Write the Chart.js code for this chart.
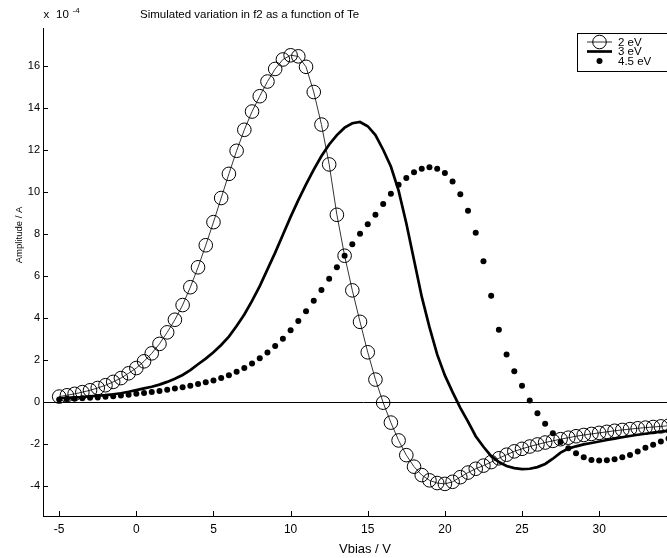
<!DOCTYPE html>
<html>
<head>
<meta charset="utf-8">
<script src="https://cdn.jsdelivr.net/npm/chart.js@4.4.0/dist/chart.umd.min.js"></script>
<style>
  html, body { margin: 0; padding: 0; background: #fff; overflow: hidden; }
  #wrap { position: relative; width: 700px; height: 558px; }
</style>
</head>
<body>
<div id="wrap"><canvas id="c"></canvas></div>
<script>
// Bias voltage (V) at which f2 was simulated
const vbias = [-5,-4.5,-4,-3.5,-3,-2.5,-2,-1.5,-1,-0.5,0,0.5,1,1.5,2,2.5,3,3.5,4,4.5,
  5,5.5,6,6.5,7,7.5,8,8.5,9,9.5,10,10.5,11,11.5,12,12.5,13,13.5,14,14.5,
  15,15.5,16,16.5,17,17.5,18,18.5,19,19.5,20,20.5,21,21.5,22,22.5,23,23.5,24,24.5,
  25,25.5,26,26.5,27,27.5,28,28.5,29,29.5,30,30.5,31,31.5,32,32.5,33,33.5,34,34.5,35];

// f2 amplitude, in units of 1e-4 A
const amp2eV = [0.24,0.30,0.37,0.45,0.54,0.65,0.78,0.94,1.12,1.35,1.60,1.92,2.30,2.75,3.30,3.90,4.60,5.45,6.40,7.45,
  8.55,9.70,10.85,11.95,12.95,13.82,14.55,15.25,15.85,16.30,16.50,16.45,15.95,14.75,13.20,11.30,8.90,6.95,5.30,3.80,
  2.35,1.05,-0.05,-1.00,-1.85,-2.55,-3.10,-3.50,-3.75,-3.88,-3.92,-3.82,-3.60,-3.38,-3.20,-3.05,-2.88,-2.70,-2.53,-2.37,
  -2.25,-2.14,-2.04,-1.95,-1.87,-1.79,-1.72,-1.65,-1.59,-1.54,-1.49,-1.44,-1.39,-1.35,-1.31,-1.27,-1.24,-1.21,-1.18,-1.15,-1.12];

const amp3eV = [0.16,0.18,0.20,0.22,0.25,0.28,0.31,0.35,0.40,0.47,0.55,0.63,0.71,0.81,0.94,1.09,1.27,1.50,1.78,2.05,
  2.35,2.70,3.10,3.60,4.15,4.80,5.50,6.30,7.10,7.95,8.80,9.60,10.35,11.05,11.70,12.25,12.70,13.05,13.26,13.32,
  13.12,12.70,12.00,11.20,10.05,8.50,6.75,5.00,3.55,2.25,1.25,0.45,-0.30,-0.95,-1.65,-2.15,-2.60,-2.88,-3.07,-3.17,
  -3.22,-3.20,-3.12,-2.97,-2.72,-2.43,-2.24,-2.13,-2.04,-1.97,-1.90,-1.83,-1.76,-1.70,-1.64,-1.58,-1.53,-1.48,-1.43,-1.38,-1.34];

const amp45eV = [0.10,0.12,0.14,0.16,0.18,0.20,0.23,0.26,0.29,0.33,0.37,0.41,0.46,0.51,0.56,0.62,0.69,0.76,0.84,0.92,
  1.00,1.12,1.26,1.42,1.60,1.82,2.06,2.34,2.65,3.00,3.40,3.84,4.30,4.80,5.32,5.85,6.40,6.95,7.50,8.00,
  8.45,8.90,9.41,9.90,10.33,10.65,10.93,11.10,11.17,11.09,10.89,10.49,9.88,9.09,8.04,6.69,5.04,3.42,2.25,1.45,
  0.76,0.05,-0.55,-1.06,-1.51,-1.92,-2.22,-2.46,-2.65,-2.78,-2.81,-2.79,-2.75,-2.65,-2.54,-2.38,-2.20,-2.06,-1.90,-1.76,-1.63];

const seriesNames = ['2 eV', '3 eV', '4.5 eV'];
const xTicks = [-5, 0, 5, 10, 15, 20, 25, 30];
const yTicks = [-4, -2, 0, 2, 4, 6, 8, 10, 12, 14, 16];

const titleText = 'Simulated variation in f2 as a function of Te';
const xTitle = 'Vbias / V';
const yTitle = 'Amplitude / A';

const FONT = '"Liberation Sans", Arial, Helvetica, sans-serif';

function toPoints(ys) { return vbias.map((x, i) => ({ x: x, y: ys[i] })); }

// Axes decorations drawn in the MATLAB manner: inward ticks, zero line, texts, boxed legend
const decor = {
  id: 'decor',
  beforeDatasetsDraw(chart) {
    const { ctx, chartArea: a, scales: { x, y } } = chart;
    ctx.save();
    ctx.strokeStyle = '#000';
    ctx.lineWidth = 1;
    // zero reference line
    const y0 = Math.round(y.getPixelForValue(0)) + 0.5;
    ctx.beginPath();
    ctx.moveTo(a.left, y0);
    ctx.lineTo(a.right, y0);
    ctx.stroke();
    // inward tick marks
    ctx.beginPath();
    xTicks.forEach(v => {
      const px = Math.round(x.getPixelForValue(v)) + 0.5;
      ctx.moveTo(px, a.bottom);
      ctx.lineTo(px, a.bottom - 5);
    });
    yTicks.forEach(v => {
      const py = Math.round(y.getPixelForValue(v)) + 0.5;
      ctx.moveTo(a.left, py);
      ctx.lineTo(a.left + 5, py);
    });
    ctx.stroke();
    ctx.restore();
  },
  afterDraw(chart) {
    const { ctx, chartArea: a } = chart;
    ctx.save();
    ctx.fillStyle = '#000';
    // title
    ctx.font = '11.5px ' + FONT;
    ctx.textAlign = 'left';
    ctx.textBaseline = 'alphabetic';
    ctx.fillText(titleText, 140, 18);
    // exponent label above the y axis
    ctx.font = '11.5px ' + FONT;
    ctx.fillText('x', 43.5, 18);
    ctx.fillText('10', 56, 18);
    ctx.font = '8px ' + FONT;
    ctx.fillText('-4', 72.5, 12.5);
    // axis titles
    ctx.font = '13px ' + FONT;
    ctx.textAlign = 'center';
    ctx.textBaseline = 'alphabetic';
    ctx.fillText(xTitle, 365, 553);
    ctx.save();
    ctx.translate(19, 235);
    ctx.rotate(-Math.PI / 2);
    ctx.font = '9.5px ' + FONT;
    ctx.textBaseline = 'middle';
    ctx.fillText(yTitle, 0, 0);
    ctx.restore();

    // legend box
    const bx = 577.5, by = 33.5, bw = a.right - 4 - bx, bh = 38;
    ctx.fillStyle = '#fff';
    ctx.fillRect(bx, by, bw, bh);
    ctx.strokeStyle = '#000';
    ctx.lineWidth = 1;
    ctx.strokeRect(bx, by, bw, bh);
    const rowY = [42, 51.5, 61];
    chart.data.datasets.forEach((ds, i) => {
      const yy = rowY[i];
      if (ds.showLine !== false) {
        ctx.beginPath();
        ctx.lineWidth = ds.borderWidth;
        ctx.strokeStyle = ds.borderColor;
        ctx.moveTo(587, yy);
        ctx.lineTo(612, yy);
        ctx.stroke();
      }
      if (ds.pointRadius > 0) {
        ctx.beginPath();
        ctx.arc(599.5, yy, ds.pointRadius, 0, Math.PI * 2);
        ctx.fillStyle = ds.pointBackgroundColor;
        ctx.fill();
        if (ds.pointBorderWidth > 0) {
          ctx.lineWidth = ds.pointBorderWidth;
          ctx.strokeStyle = ds.pointBorderColor;
          ctx.stroke();
        }
      }
      ctx.fillStyle = '#000';
      ctx.font = '11.5px ' + FONT;
      ctx.textAlign = 'left';
      ctx.textBaseline = 'middle';
      ctx.fillText(ds.label, 618, yy + 0.5);
    });
    ctx.restore();
  }
};

new Chart(document.getElementById('c'), {
  type: 'line',
  data: {
    datasets: [
      {
        label: seriesNames[0],
        data: toPoints(amp2eV),
        borderColor: '#000',
        borderWidth: 0.8,
        pointStyle: 'circle',
        pointRadius: 6.8,
        pointBorderWidth: 1,
        pointBorderColor: '#000',
        pointBackgroundColor: 'rgba(0,0,0,0)',
        tension: 0
      },
      {
        label: seriesNames[1],
        data: toPoints(amp3eV),
        borderColor: '#000',
        borderWidth: 2.7,
        pointRadius: 0,
        pointBorderWidth: 0,
        pointBackgroundColor: '#000',
        tension: 0
      },
      {
        label: seriesNames[2],
        data: toPoints(amp45eV),
        showLine: false,
        borderColor: '#000',
        borderWidth: 0,
        pointRadius: 3,
        pointBorderWidth: 0,
        pointBorderColor: '#000',
        pointBackgroundColor: '#000'
      }
    ]
  },
  options: {
    responsive: true,
    maintainAspectRatio: false,
    animation: false,
    layout: { padding: { top: 28, right: 16, left: 0, bottom: 0 } },
    plugins: {
      legend: { display: false },
      title: { display: false },
      tooltip: { enabled: false }
    },
    scales: {
      x: {
        type: 'linear',
        min: -6.05,
        max: 35.5,
        grid: { display: false, drawTicks: false },
        border: { display: true, color: '#000', width: 1 },
        afterBuildTicks: s => { s.ticks = xTicks.map(v => ({ value: v })); },
        afterFit: s => { s.height = 42; },
        ticks: {
          color: '#000',
          padding: 6,
          maxRotation: 0,
          autoSkip: false,
          font: { family: FONT, size: 12 }
        }
      },
      y: {
        type: 'linear',
        min: -5.45,
        max: 17.8,
        grid: { display: false, drawTicks: false },
        border: { display: true, color: '#000', width: 1 },
        afterBuildTicks: s => { s.ticks = yTicks.map(v => ({ value: v })); },
        afterFit: s => { s.width = 43; },
        ticks: {
          color: '#000',
          padding: 3,
          autoSkip: false,
          font: { family: FONT, size: 11 }
        }
      }
    }
  },
  plugins: [decor]
});
</script>
</body>
</html>
